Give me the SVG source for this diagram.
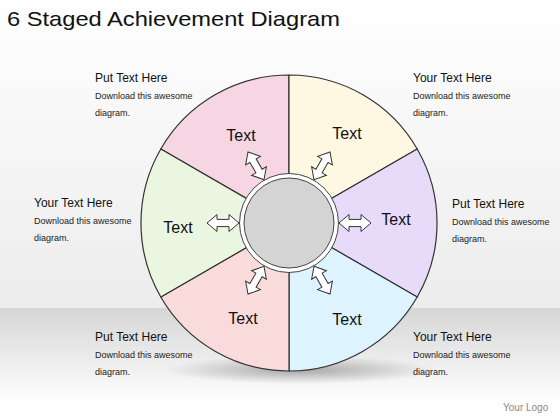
<svg xmlns="http://www.w3.org/2000/svg" width="560" height="420" viewBox="0 0 560 420">
<defs>
<linearGradient id="bgTop" x1="0" y1="0" x2="0" y2="1">
<stop offset="0" stop-color="#ffffff"/>
<stop offset="1" stop-color="#ececec"/>
</linearGradient>
<linearGradient id="bgBot" x1="0" y1="0" x2="0" y2="1">
<stop offset="0" stop-color="#d6d6d6"/>
<stop offset="0.85" stop-color="#ffffff"/>
<stop offset="1" stop-color="#ffffff"/>
</linearGradient>
<radialGradient id="shadow" cx="0.5" cy="0.5" r="0.5">
<stop offset="0" stop-color="#888" stop-opacity="0.7"/>
<stop offset="1" stop-color="#888" stop-opacity="0"/>
</radialGradient>
<path id="dblArrow" d="M0,0 L10,-8.5 L10,-3.6 L22,-3.6 L22,-8.5 L32,0 L22,8.5 L22,3.6 L10,3.6 L10,8.5 Z"/>
</defs>
<style>
.seg{stroke:#333;stroke-width:1.2;stroke-linejoin:round}
.head{font-family:"Liberation Sans",Arial,sans-serif;font-size:12px;fill:#111}
.body{font-family:"Liberation Sans",Arial,sans-serif;font-size:9px;fill:#222}
.lbl{font-family:"Liberation Sans",Arial,sans-serif;font-size:16px;fill:#111;text-anchor:middle}
.arr{fill:#fff;stroke:#333;stroke-width:1}
</style>
<rect x="0" y="0" width="560" height="308" fill="url(#bgTop)"/>
<rect x="0" y="308" width="560" height="112" fill="url(#bgBot)"/>
<ellipse cx="300" cy="370" rx="135" ry="14" fill="url(#shadow)"/>
<text x="7" y="26" font-family="'Liberation Sans',Arial,sans-serif" font-size="21" fill="#111" textLength="333" lengthAdjust="spacingAndGlyphs">6 Staged Achievement Diagram</text>

<g id="seg-top-left">
<path class="seg" fill="#f7d6e4" d="M289,223 L289,75 A148,148 0 0 0 160.8,149 Z"/>
<text class="lbl" x="241" y="141">Text</text>
</g>
<g id="seg-top-right">
<path class="seg" fill="#fef8e3" d="M289,223 L417.2,149 A148,148 0 0 0 289,75 Z"/>
<text class="lbl" x="347" y="139">Text</text>
</g>
<g id="seg-right">
<path class="seg" fill="#e8dbfa" d="M289,223 L417.2,297 A148,148 0 0 0 417.2,149 Z"/>
<text class="lbl" x="396" y="225">Text</text>
</g>
<g id="seg-bottom-right">
<path class="seg" fill="#ddf3fd" d="M289,223 L289,371 A148,148 0 0 0 417.2,297 Z"/>
<text class="lbl" x="347" y="325">Text</text>
</g>
<g id="seg-bottom-left">
<path class="seg" fill="#fadbdc" d="M289,223 L160.8,297 A148,148 0 0 0 289,371 Z"/>
<text class="lbl" x="243" y="324">Text</text>
</g>
<g id="seg-left">
<path class="seg" fill="#eaf6e0" d="M289,223 L160.8,149 A148,148 0 0 0 160.8,297 Z"/>
<text class="lbl" x="178" y="233">Text</text>
</g>

<g id="hub">
<circle cx="289" cy="223" r="49.5" fill="#fff" stroke="#444" stroke-width="1"/>
<circle cx="289" cy="223" r="45" fill="#d4d4d4" stroke="#444" stroke-width="1"/>
</g>

<g id="connectors">
<use href="#dblArrow" class="arr" transform="translate(289,223) rotate(0) translate(50,0)"/>
<use href="#dblArrow" class="arr" transform="translate(289,223) rotate(-60) translate(50,0)"/>
<use href="#dblArrow" class="arr" transform="translate(289,223) rotate(-120) translate(50,0)"/>
<use href="#dblArrow" class="arr" transform="translate(289,223) rotate(180) translate(50,0)"/>
<use href="#dblArrow" class="arr" transform="translate(289,223) rotate(120) translate(50,0)"/>
<use href="#dblArrow" class="arr" transform="translate(289,223) rotate(60) translate(50,0)"/>
</g>

<g id="note-top-left">
<text class="head" x="95" y="82">Put Text Here</text>
<text class="body" x="95" y="99">Download this awesome</text>
<text class="body" x="95" y="116">diagram.</text>
</g>
<g id="note-top-right">
<text class="head" x="413" y="82">Your Text Here</text>
<text class="body" x="413" y="99">Download this awesome</text>
<text class="body" x="413" y="116">diagram.</text>
</g>
<g id="note-left">
<text class="head" x="34" y="207">Your Text Here</text>
<text class="body" x="34" y="224">Download this awesome</text>
<text class="body" x="34" y="241">diagram.</text>
</g>
<g id="note-right">
<text class="head" x="452" y="208">Put Text Here</text>
<text class="body" x="452" y="225">Download this awesome</text>
<text class="body" x="452" y="242">diagram.</text>
</g>
<g id="note-bottom-left">
<text class="head" x="95" y="341">Put Text Here</text>
<text class="body" x="95" y="358">Download this awesome</text>
<text class="body" x="95" y="375">diagram.</text>
</g>
<g id="note-bottom-right">
<text class="head" x="413" y="341">Your Text Here</text>
<text class="body" x="413" y="358">Download this awesome</text>
<text class="body" x="413" y="375">diagram.</text>
</g>
<text x="503" y="411" font-family="'Liberation Sans',Arial,sans-serif" font-size="10" fill="#888">Your Logo</text>
</svg>
